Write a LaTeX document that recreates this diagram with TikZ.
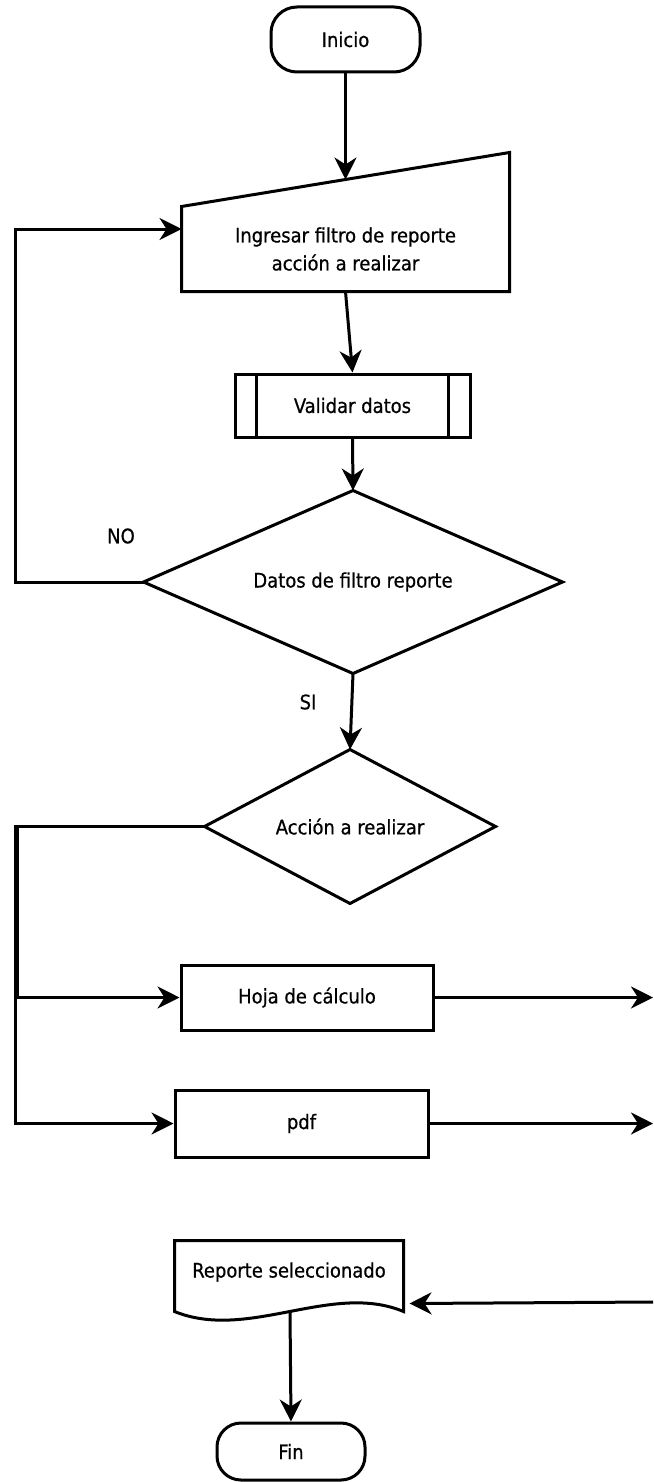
\documentclass[tikz,border=0pt]{standalone}
\usepackage{fontspec}
\setmainfont{DejaVu Sans Condensed}[UprightFeatures={FakeBold=0.6}]
\usetikzlibrary{arrows.meta,calc}
\begin{document}
\begin{tikzpicture}[x=1pt,y=-1pt,
  line width=3pt,
  every node/.style={font=\fontsize{20}{28}\selectfont, inner sep=0pt, align=center},
  terminal/.style={draw, rectangle, rounded corners=26pt},
  box/.style={draw, rectangle},
  area/.style={rectangle},
  flow/.style={-{Stealth[length=22pt,width=22pt,inset=7pt]}},
  tag/.style={}]
\useasboundingbox (0,0) rectangle (653,1482);

% start
\node[terminal, minimum width=149pt, minimum height=65pt] (inicio) at (345.5,39.5) {Inicio};

% manual input
\node[area, minimum width=325pt, minimum height=82pt] (ingresar) at (345.5,249)
  {Ingresar filtro de reporte\\acción a realizar};
\coordinate (ingresar-tr) at ($(ingresar.north east)+(0,-54)$);
\draw[line join=miter] (ingresar.south west) -- (ingresar.south east) -- (ingresar-tr)
  -- (ingresar.north west) -- cycle;
\coordinate (ingresar-top) at ($(ingresar.north west)!.5!(ingresar-tr)$);
\coordinate (ingresar-in) at ($(ingresar.west)+(0,-20)$);

% predefined process
\node[box, minimum width=235pt, minimum height=63pt] (validar) at (352.5,405.5) {Validar datos};
\draw ($(validar.north west)+(23,0)$) -- ($(validar.south west)+(23,0)$);
\draw ($(validar.north east)+(-23,0)$) -- ($(validar.south east)+(-23,0)$);

% first decision
\node[area, minimum width=416pt, minimum height=180pt] (check) at (353,582) {Datos de filtro reporte};
\draw[line join=miter] (check.north) -- (check.east) -- (check.south) -- (check.west) -- cycle;

% second decision
\node[area, minimum width=288pt, minimum height=151pt] (accion) at (350,826.5) {Acción a realizar};
\draw[line join=miter] (accion.north) -- (accion.east) -- (accion.south) -- (accion.west) -- cycle;

% outputs
\node[box, minimum width=252pt, minimum height=65pt] (hoja) at (307,997.5) {Hoja de cálculo};
\node[box, minimum width=253pt, minimum height=67pt] (pdf) at (301.5,1123.5) {pdf};

% document
\node[area, minimum width=226pt, minimum height=60pt] (reporte) at (289,1272) {Reporte seleccionado};
\coordinate (rep-bl) at ($(reporte.south west)+(0,8)$);
\coordinate (rep-br) at ($(reporte.south east)+(0,8)$);
\draw[line join=miter] (rep-bl) -- (reporte.north west) -- (reporte.north east) -- (rep-br)
  .. controls ($(rep-br)+(-72,-30)$) and ($(rep-bl)+(74,30)$) .. (rep-bl) -- cycle;
\coordinate (rep-out) at ($(reporte.south)+(1,8)$);

% end
\node[terminal, rounded corners=24pt, minimum width=148pt, minimum height=57pt] (fin) at (291,1451.5) {Fin};

% branch labels
\node[tag] (no) at (121,536) {NO};
\node[tag] (si) at (308,702) {SI};

% free ends and rails
\coordinate (loop) at (15,0);
\coordinate (rail-a) at (17,0);
\coordinate (rail-b) at (15.5,0);
\coordinate (hoja-out) at (653,997.5);
\coordinate (pdf-out) at (653,1123.5);
\coordinate (rep-src) at (653,1302);
\coordinate (rep-in) at ($(reporte.south east)+(6,0)$);

% connectors
\draw[flow] (inicio.south) -- (ingresar-top);
\draw[flow] (ingresar.south) -- (validar.north);
\draw[flow] (validar.south) -- (check.north);
\draw[flow] (check.west) -- (check.west -| loop) -- (loop |- ingresar-in) -- (ingresar-in);
\draw[flow] (check.south) -- (accion.north);
\draw[flow] (accion.west) -- (accion.west -| rail-a) -- (rail-a |- hoja.west) -- (hoja.west);
\draw[flow] (accion.west) -- (accion.west -| rail-b) -- (rail-b |- pdf.west) -- (pdf.west);
\draw[flow] (hoja.east) -- (hoja-out);
\draw[flow] (pdf.east) -- (pdf-out);
\draw[flow] (rep-src) -- (rep-in);
\draw[flow] (rep-out) -- (fin.north);
\end{tikzpicture}
\end{document}
